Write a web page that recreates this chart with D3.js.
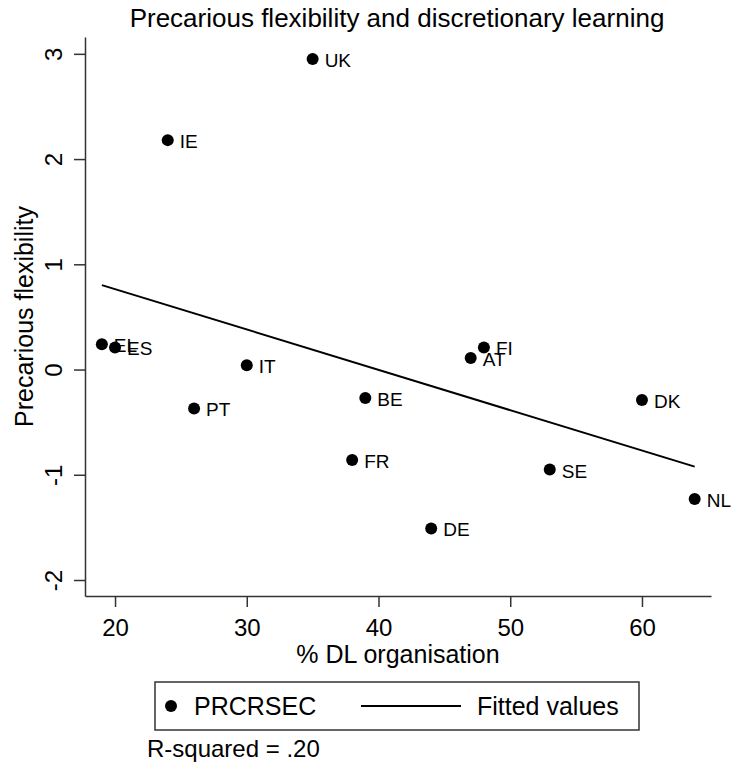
<!DOCTYPE html>
<html>
<head>
<meta charset="utf-8">
<script src="https://cdn.jsdelivr.net/npm/d3@7"></script>
<style>
  html, body { margin: 0; padding: 0; background: #fff; }
  text { font-family: "Liberation Sans", Arial, Helvetica, sans-serif; fill: #000; }
</style>
</head>
<body>
<svg id="chart" width="734" height="773"></svg>
<script>
const countries = ["UK", "IE", "EL", "ES", "IT", "PT", "BE", "FR", "DE", "AT", "FI", "SE", "DK", "NL"];
const dlOrganisation = [35, 24, 19, 20, 30, 26, 39, 38, 44, 47, 48, 53, 60, 64];
const precariousFlex = [2.95, 2.18, 0.24, 0.21, 0.04, -0.37, -0.27, -0.86, -1.51, 0.11, 0.21, -0.95, -0.29, -1.23];
const xTicks = [20, 30, 40, 50, 60];
const yTicks = [-2, -1, 0, 1, 2, 3];
const titleText = "Precarious flexibility and discretionary learning";
const xTitle = "% DL organisation";
const yTitle = "Precarious flexibility";
const legendLabels = ["PRCRSEC", "Fitted values"];
const noteText = "R-squared = .20";

const svg = d3.select("#chart");
svg.append("rect").attr("width", 734).attr("height", 773).attr("fill", "#fff");

const x = d3.scaleLinear().domain([17.72, 65.24]).range([85, 711]);
const y = d3.scaleLinear().domain([-2.152, 3.16]).range([596, 37]);

// Linear fit
const n = dlOrganisation.length;
const mx = d3.mean(dlOrganisation), my = d3.mean(precariousFlex);
let sxy = 0, sxx = 0;
for (let i = 0; i < n; i++) {
  sxy += (dlOrganisation[i] - mx) * (precariousFlex[i] - my);
  sxx += (dlOrganisation[i] - mx) ** 2;
}
const slope = sxy / sxx, intercept = my - slope * mx;
const xMin = d3.min(dlOrganisation), xMax = d3.max(dlOrganisation);
const fitPts = [[xMin, intercept + slope * xMin], [xMax, intercept + slope * xMax]];

const fmt = d => String(d);

// Axes
const axisColor = "#333";
const yAxis = svg.append("g").attr("transform", "translate(85,0)")
  .call(d3.axisLeft(y).tickValues(yTicks).tickSize(11).tickSizeOuter(0).tickFormat(fmt));
yAxis.selectAll("path.domain").attr("stroke", axisColor).attr("stroke-width", 1.5);
yAxis.selectAll(".tick line").attr("stroke", axisColor).attr("stroke-width", 1.5);
yAxis.selectAll(".tick text")
  .attr("x", null).attr("dy", null)
  .attr("transform", "translate(-23,0) rotate(-90)")
  .attr("text-anchor", "middle")
  .attr("font-size", 24)
  .attr("font-family", "Liberation Sans, Arial, sans-serif")
  .attr("fill", "#000");

const xAxis = svg.append("g").attr("transform", "translate(0,596)")
  .call(d3.axisBottom(x).tickValues(xTicks).tickSize(11).tickSizeOuter(0).tickFormat(fmt));
xAxis.selectAll("path.domain").attr("stroke", axisColor).attr("stroke-width", 1.5);
xAxis.selectAll(".tick line").attr("stroke", axisColor).attr("stroke-width", 1.5);
xAxis.selectAll(".tick text")
  .attr("y", 40).attr("dy", null)
  .attr("font-size", 24)
  .attr("font-family", "Liberation Sans, Arial, sans-serif")
  .attr("fill", "#000");

// Fitted line
svg.append("path")
  .attr("d", d3.line().x(d => x(d[0])).y(d => y(d[1]))(fitPts))
  .attr("stroke", "#000").attr("stroke-width", 2).attr("fill", "none");

// Points
const pts = countries.map((c, i) => ({ c, xv: dlOrganisation[i], yv: precariousFlex[i] }));
svg.append("g").selectAll("circle").data(pts).join("circle")
  .attr("cx", d => x(d.xv)).attr("cy", d => y(d.yv)).attr("r", 6).attr("fill", "#000");
svg.append("g").selectAll("text").data(pts).join("text")
  .attr("x", d => x(d.xv) + 12).attr("y", d => y(d.yv) + 8)
  .attr("font-size", 19).text(d => d.c);

// Titles
svg.append("text").attr("x", 397).attr("y", 27).attr("text-anchor", "middle")
  .attr("font-size", 26).text(titleText);
svg.append("text").attr("x", 398).attr("y", 663).attr("text-anchor", "middle")
  .attr("font-size", 25).text(xTitle);
svg.append("text").attr("transform", "translate(33,316.5) rotate(-90)").attr("text-anchor", "middle")
  .attr("font-size", 25).text(yTitle);

// Legend
const lg = svg.append("g");
lg.append("rect").attr("x", 155).attr("y", 682).attr("width", 484).attr("height", 48)
  .attr("fill", "#fff").attr("stroke", "#333").attr("stroke-width", 1.5);
lg.append("circle").attr("cx", 171).attr("cy", 706).attr("r", 6).attr("fill", "#000");
lg.append("text").attr("x", 194).attr("y", 715).attr("font-size", 25).text(legendLabels[0]);
lg.append("line").attr("x1", 361).attr("x2", 461).attr("y1", 706).attr("y2", 706)
  .attr("stroke", "#000").attr("stroke-width", 2);
lg.append("text").attr("x", 477).attr("y", 715).attr("font-size", 25).text(legendLabels[1]);

// Note
svg.append("text").attr("x", 147).attr("y", 757).attr("font-size", 24).text(noteText);
</script>
</body>
</html>
